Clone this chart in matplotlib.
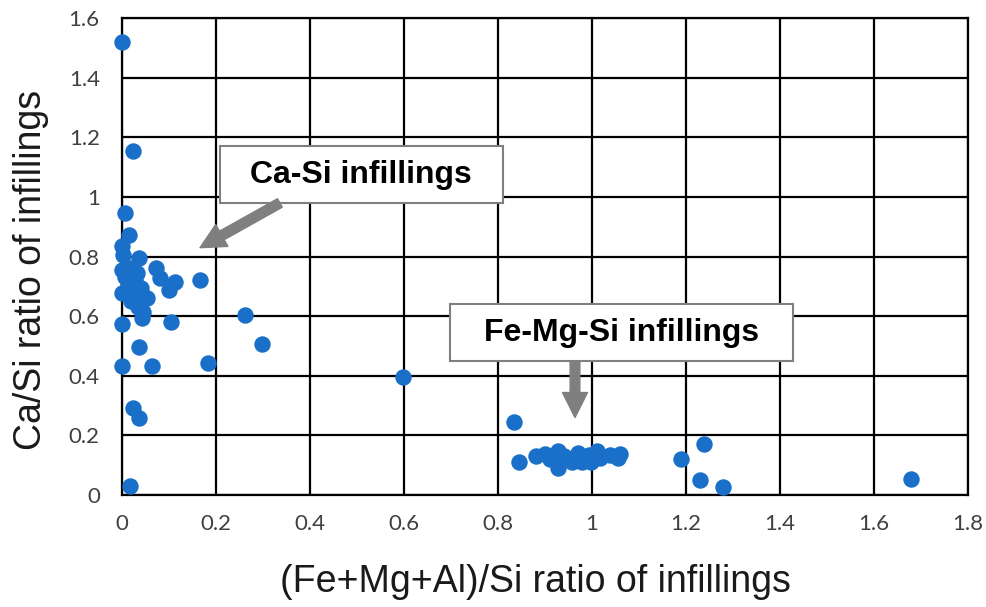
import matplotlib.pyplot as plt
from matplotlib.patches import Rectangle

# Ca-Si infillings (left cluster)
ca_x = [0.000, 0.023, 0.006, 0.015, 0.001, 0.003, 0.037, 0.001, 0.017, 0.031,
        0.006, 0.072, 0.081, 0.113, 0.099, 0.165, 0.001, 0.024, 0.040, 0.054,
        0.035, 0.042, 0.001, 0.104, 0.262, 0.297, 0.037, 0.000, 0.063, 0.182,
        0.024, 0.037, 0.017, 0.012, 0.020, 0.028, 0.045]
ca_y = [1.520, 1.155, 0.945, 0.873, 0.834, 0.806, 0.795, 0.755, 0.761, 0.744,
        0.733, 0.761, 0.727, 0.716, 0.688, 0.722, 0.677, 0.671, 0.694, 0.662,
        0.632, 0.593, 0.573, 0.582, 0.604, 0.506, 0.498, 0.433, 0.433, 0.442,
        0.293, 0.257, 0.030, 0.705, 0.650, 0.720, 0.615]

# Fe-Mg-Si infillings (right cluster) + outliers
fe_x = [0.598, 0.834, 0.845, 0.881, 0.900, 0.910, 0.928, 0.928, 0.946, 0.957,
        0.971, 0.978, 0.993, 0.999, 1.010, 1.017, 1.038, 1.056, 1.060, 0.940,
        1.190, 1.239, 1.230, 1.279, 1.678]
fe_y = [0.396, 0.246, 0.112, 0.131, 0.138, 0.120, 0.148, 0.090, 0.123, 0.112,
        0.140, 0.112, 0.135, 0.112, 0.148, 0.123, 0.134, 0.123, 0.136, 0.130,
        0.121, 0.171, 0.050, 0.028, 0.053]

x_ticks = [0, 0.2, 0.4, 0.6, 0.8, 1, 1.2, 1.4, 1.6, 1.8]
y_ticks = [0, 0.2, 0.4, 0.6, 0.8, 1, 1.2, 1.4, 1.6]
x_labels = ['0', '0.2', '0.4', '0.6', '0.8', '1', '1.2', '1.4', '1.6', '1.8']
y_labels = ['0', '0.2', '0.4', '0.6', '0.8', '1', '1.2', '1.4', '1.6']

fig = plt.figure(figsize=(9.87, 6.07), dpi=100)
ax = fig.add_axes([0.1236, 0.1845, 0.857, 0.7855])

dot = '#1a6fc9'
ax.scatter(ca_x + fe_x, ca_y + fe_y, s=140, color=dot, zorder=3, clip_on=False,
           linewidths=0)

ax.set_xlim(0, 1.8)
ax.set_ylim(0, 1.6)
ax.set_xticks(x_ticks)
ax.set_yticks(y_ticks)
ax.set_xticklabels(x_labels)
ax.set_yticklabels(y_labels)
ax.tick_params(length=0, labelsize=16, labelcolor='#404040')
ax.tick_params(axis='x', pad=14)
ax.tick_params(axis='y', pad=16)
for lab in ax.get_xticklabels() + ax.get_yticklabels():
    lab.set_family('Lato')
ax.grid(True, color='black', linewidth=1.6)
ax.set_axisbelow(True)
for sp in ax.spines.values():
    sp.set_linewidth(1.6)
    sp.set_color('black')

# axis titles
fig.text(0.542, 0.041, '(Fe+Mg+Al)/Si ratio of infillings', fontsize=27,
         family='Liberation Sans', color='#1a1a1a', ha='center', va='center')
fig.text(0.031, 0.555, 'Ca/Si ratio of infillings', fontsize=27, rotation=90,
         family='Liberation Sans', color='#1a1a1a', ha='center', va='center')

# annotation boxes
gray = '#7f7f7f'
arrow = 'simple,head_length=0.9,head_width=0.9,tail_width=0.35'
ax.add_patch(Rectangle((0.208, 0.98), 0.602, 0.19, facecolor='white',
                       edgecolor=gray, linewidth=1.5, zorder=4))
ax.text(0.509, 1.075, 'Ca-Si infillings', fontsize=23, fontweight='bold',
        family='Liberation Sans', ha='center', va='center', zorder=5)
ax.annotate('', xy=(0.166, 0.83), xytext=(0.336, 0.98),
            arrowprops=dict(arrowstyle=arrow, color=gray, mutation_scale=20,
                            shrinkA=0, shrinkB=0), zorder=4)

ax.add_patch(Rectangle((0.698, 0.45), 0.73, 0.19, facecolor='white',
                       edgecolor=gray, linewidth=1.5, zorder=4))
ax.text(1.063, 0.545, 'Fe-Mg-Si infillings', fontsize=23, fontweight='bold',
        family='Liberation Sans', ha='center', va='center', zorder=5)
ax.annotate('', xy=(0.964, 0.26), xytext=(0.964, 0.45),
            arrowprops=dict(arrowstyle=arrow, color=gray, mutation_scale=20,
                            shrinkA=0, shrinkB=0), zorder=4)

fig.savefig('out.png', dpi=100)
